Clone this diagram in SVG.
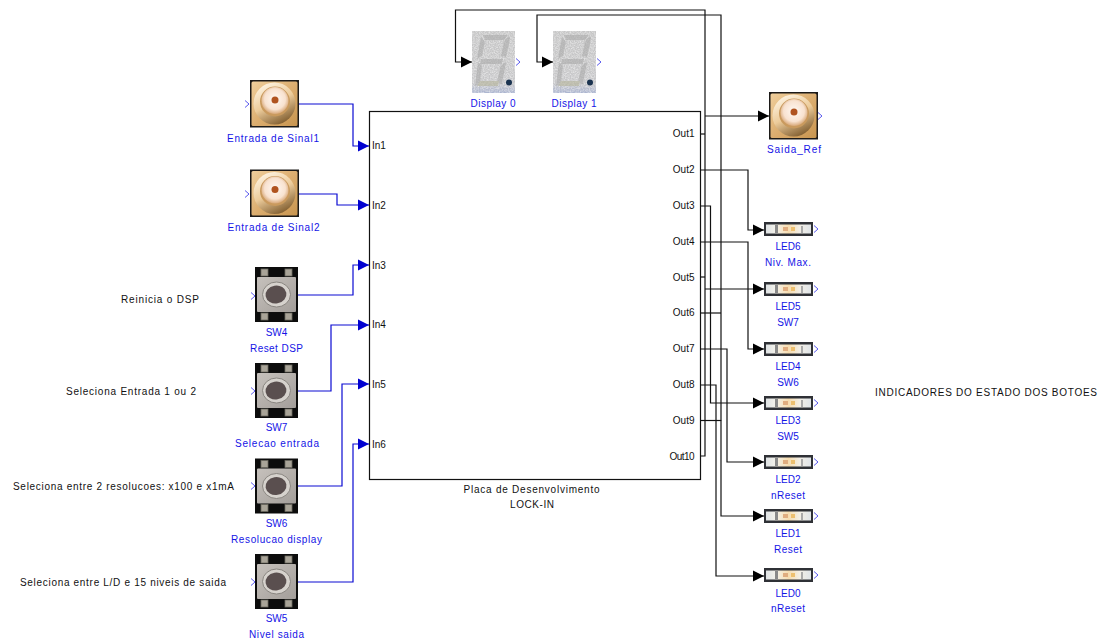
<svg xmlns="http://www.w3.org/2000/svg" xmlns:xlink="http://www.w3.org/1999/xlink" width="1099" height="642" viewBox="0 0 1099 642">
<style>
text{font-family:"Liberation Sans",Arial,sans-serif;font-size:10px}
.k{fill:#111}
.b{fill:#1414e6;text-anchor:middle}
.c{text-anchor:middle}
.e{text-anchor:end}
.wk{fill:none;stroke:#111;stroke-width:1.2;marker-end:url(#ak)}
.wn{fill:none;stroke:#111;stroke-width:1.2}
.wb{fill:none;stroke:#0a0ad2;stroke-width:1.2;marker-end:url(#ab)}
.chev{fill:none;stroke:#5a5aee;stroke-width:1}
</style>
<defs>
<marker id="ak" markerUnits="userSpaceOnUse" markerWidth="11" markerHeight="12" refX="11" refY="6" orient="auto"><path d="M0 0.5L11 6L0 11.500Z" fill="#000"/></marker>
<marker id="ab" markerUnits="userSpaceOnUse" markerWidth="11" markerHeight="12" refX="11" refY="6" orient="auto"><path d="M0 0.5L11 6L0 11.500Z" fill="#0000d0"/></marker>
<linearGradient id="gold" x1="0" x2="1" y1="0" y2="1"><stop offset="0" stop-color="#f0cf9c"/><stop offset=".5" stop-color="#dcae70"/><stop offset="1" stop-color="#c8954f"/></linearGradient>
<linearGradient id="ring" x1="0.200" x2="0.700" y1="0" y2="1"><stop offset="0" stop-color="#fff6e6"/><stop offset=".5" stop-color="#eccb9a"/><stop offset="1" stop-color="#7d5a2c"/></linearGradient>
<radialGradient id="core" cx="50%" cy="45%" r="55%"><stop offset="0" stop-color="#fff8f2"/><stop offset=".7" stop-color="#f8e2d0"/><stop offset="1" stop-color="#d8a878"/></radialGradient>
<linearGradient id="led" x1="0" x2="1" y1="0" y2="0"><stop offset="0" stop-color="#dfe3e5"/><stop offset=".22" stop-color="#f4f2ea"/><stop offset=".5" stop-color="#f7ddb0"/><stop offset=".75" stop-color="#f3efe6"/><stop offset="1" stop-color="#dfe4e8"/></linearGradient>
<linearGradient id="body" x1="0" x2="1" y1="0" y2="1"><stop offset="0" stop-color="#c6c1bc"/><stop offset="1" stop-color="#a39e9a"/></linearGradient>
<linearGradient id="disp" x1="0" x2="0" y1="0" y2="1"><stop offset="0" stop-color="#c6c6c6"/><stop offset=".85" stop-color="#c8c8ca"/><stop offset="1" stop-color="#aab4d0"/></linearGradient>
<filter id="spk" x="0" y="0" width="1" height="1"><feTurbulence type="fractalNoise" baseFrequency=".8" numOctaves="2" seed="3"/><feColorMatrix values="0 0 0 0 1  0 0 0 0 1  0 0 0 0 1  0 0 0 1 -.35"/><feComposite in2="SourceGraphic" operator="in"/><feMerge><feMergeNode in="SourceGraphic"/><feMergeNode/></feMerge></filter>
<g id="sma">
<rect width="49" height="47.500" fill="#1c1a18"/>
<rect x="1.500" y="1.500" width="46" height="44.500" rx="1.500" fill="url(#gold)"/>
<circle cx="24.500" cy="23.500" r="21" fill="url(#ring)"/>
<circle cx="25" cy="21.500" r="15" fill="#c99a5e"/>
<circle cx="25" cy="20.500" r="13.500" fill="url(#core)"/>
<circle cx="25" cy="20" r="3.500" fill="#b0531f"/>
</g>
<g id="sw">
<rect width="43" height="55" fill="#0c0c0c"/>
<g fill="#a9a498" stroke="#6c6a60" stroke-width=".8"><rect x="6" y="2" width="7" height="7"/><rect x="30" y="2" width="7" height="7"/><rect x="6" y="46" width="7" height="7"/><rect x="30" y="46" width="7" height="7"/></g>
<rect x="2" y="10" width="39" height="35" rx="1" fill="url(#body)"/>
<ellipse cx="21.500" cy="27.500" rx="14" ry="12.500" fill="#d6d2cd" stroke="#8a8681"/>
<ellipse cx="21" cy="27.500" rx="10.500" ry="9" fill="#5a4f4f" transform="rotate(-10 21 27.500)"/>
</g>
<g id="dsp">
<rect width="43" height="62" fill="url(#disp)" filter="url(#spk)"/>
<g fill="#a8a8a8" opacity=".55">
<path d="M11 4H36L32 9H13Z"/><path d="M9 6L13 11L10 25L5 28Z"/><path d="M37 5L38 7L34 26L29 25L32 10Z"/><path d="M9 28H31L30 33H8Z"/><path d="M6 31L10 35L8 52L3 55Z"/><path d="M33 31L34 32L30 53L25 52L28 36Z"/><path d="M8 50H27L26 55H5Z" fill="#b3b296"/>
</g>
<circle cx="37" cy="51.500" r="3" fill="#1b3350"/>
</g>
<g id="ledi">
<rect width="49" height="14" fill="#2f3136"/>
<rect x="2" y="2.500" width="45" height="9" fill="url(#led)"/>
<rect x="11" y="3" width="3" height="8" fill="#8a8a8a"/><rect x="37" y="4" width="2" height="7" fill="#aaa"/>
<rect x="19" y="5" width="5" height="4" fill="#e0ad80"/><rect x="27" y="5" width="4" height="4" fill="#edc070"/>
</g>
<path id="ch" class="chev" d="M0 -3.500L4 0L0 3.500"/>
</defs>

<g id="connectors">
<path class="wk" d="M705 134V10H455.500V62H472"/>
<path class="wk" d="M721 420.500V15H537V62H553"/>
<path class="wn" d="M700 134H705"/>
<path class="wn" d="M700 277H705"/>
<path class="wn" d="M700 456H705V134"/>
<path class="wk" d="M705 116H769"/>
<path class="wk" d="M705 289H764"/>
<path class="wk" d="M700 170H748V230H764"/>
<path class="wk" d="M700 242H748V349H764"/>
<path class="wk" d="M700 206H710.500V403H764"/>
<path class="wk" d="M700 349H727V462H764"/>
<path class="wk" d="M700 385H716V576H764"/>
<path class="wn" d="M700 313H721"/>
<path class="wn" d="M700 420.500H721"/>
<path class="wk" d="M721 420V516H764"/>
<path class="wb" d="M299 104H353V146H369"/>
<path class="wb" d="M299 194H337V205H369"/>
<path class="wb" d="M298 295H353V265H369"/>
<path class="wb" d="M298 391H331V325H369"/>
<path class="wb" d="M298 486H342V384H369"/>
<path class="wb" d="M298 582H353V444H369"/>
</g>

<g id="block-placa">
<rect x="369.500" y="111.500" width="331" height="368" fill="#fff" stroke="#111" stroke-width="1.2"/>
<text class="k" x="372" y="149">In1</text><text class="k" x="372" y="209">In2</text><text class="k" x="372" y="269">In3</text><text class="k" x="372" y="328">In4</text><text class="k" x="372" y="388">In5</text><text class="k" x="372" y="448">In6</text>
<text class="k e" x="694.500" y="137">Out1</text><text class="k e" x="694.500" y="173">Out2</text><text class="k e" x="694.500" y="209">Out3</text><text class="k e" x="694.500" y="245">Out4</text><text class="k e" x="694.500" y="281">Out5</text><text class="k e" x="694.500" y="316">Out6</text><text class="k e" x="694.500" y="352">Out7</text><text class="k e" x="694.500" y="388">Out8</text><text class="k e" x="694.500" y="424">Out9</text><text class="k e" x="694.500" y="460" textLength="25" lengthAdjust="spacing">Out10</text>
<text class="k c" x="531.500" y="493" textLength="136" lengthAdjust="spacing">Placa de Desenvolvimento</text>
<text class="k c" x="532" y="508" textLength="44" lengthAdjust="spacing">LOCK-IN</text>
</g>

<g id="entrada1"><use href="#sma" x="250" y="80"/><use href="#ch" x="245" y="104"/><text class="b" x="273" y="142" textLength="92" lengthAdjust="spacing">Entrada de Sinal1</text></g>
<g id="entrada2"><use href="#sma" x="250" y="169.500"/><use href="#ch" x="245" y="194"/><text class="b" x="273.500" y="231" textLength="92" lengthAdjust="spacing">Entrada de Sinal2</text></g>
<g id="sw4"><use href="#sw" x="255" y="267"/><use href="#ch" x="251" y="296"/><text class="b" x="276.500" y="336">SW4</text><text class="b" x="276.500" y="352" textLength="53" lengthAdjust="spacing">Reset DSP</text></g>
<g id="sw7"><use href="#sw" x="255" y="363"/><use href="#ch" x="251" y="391"/><text class="b" x="276.500" y="431">SW7</text><text class="b" x="277" y="447" textLength="84" lengthAdjust="spacing">Selecao entrada</text></g>
<g id="sw6"><use href="#sw" x="255" y="458.500"/><use href="#ch" x="251" y="486"/><text class="b" x="276.500" y="527">SW6</text><text class="b" x="276.500" y="543" textLength="91" lengthAdjust="spacing">Resolucao display</text></g>
<g id="sw5"><use href="#sw" x="255" y="554"/><use href="#ch" x="251" y="582"/><text class="b" x="276.500" y="622">SW5</text><text class="b" x="276.500" y="638" textLength="55" lengthAdjust="spacing">Nivel saida</text></g>

<g id="display0"><use href="#dsp" x="472" y="31"/><use href="#ch" x="516" y="62"/><text class="b" x="493" y="107" textLength="45" lengthAdjust="spacing">Display 0</text></g>
<g id="display1"><use href="#dsp" x="553" y="31"/><use href="#ch" x="597" y="62"/><text class="b" x="574" y="107" textLength="45" lengthAdjust="spacing">Display 1</text></g>

<g id="saida-ref"><use href="#sma" x="769" y="92"/><use href="#ch" x="818" y="116"/><text class="b" x="794" y="153" textLength="54" lengthAdjust="spacing">Saida_Ref</text></g>

<g id="led6"><use href="#ledi" x="764" y="222"/><use href="#ch" x="814" y="229"/><text class="b" x="788" y="250">LED6</text><text class="b" x="788" y="266" textLength="46" lengthAdjust="spacing">Niv. Max.</text></g>
<g id="led5"><use href="#ledi" x="764" y="282"/><use href="#ch" x="814" y="289"/><text class="b" x="788" y="310">LED5</text><text class="b" x="788" y="326">SW7</text></g>
<g id="led4"><use href="#ledi" x="764" y="342"/><use href="#ch" x="814" y="349"/><text class="b" x="788" y="370">LED4</text><text class="b" x="788" y="386">SW6</text></g>
<g id="led3"><use href="#ledi" x="764" y="396"/><use href="#ch" x="814" y="403"/><text class="b" x="788" y="424">LED3</text><text class="b" x="788" y="440">SW5</text></g>
<g id="led2"><use href="#ledi" x="764" y="455"/><use href="#ch" x="814" y="462"/><text class="b" x="788" y="483">LED2</text><text class="b" x="788" y="499" textLength="34" lengthAdjust="spacing">nReset</text></g>
<g id="led1"><use href="#ledi" x="764" y="509"/><use href="#ch" x="814" y="516"/><text class="b" x="788" y="537">LED1</text><text class="b" x="788" y="552.500" textLength="28" lengthAdjust="spacing">Reset</text></g>
<g id="led0"><use href="#ledi" x="764" y="568"/><use href="#ch" x="814" y="575"/><text class="b" x="788" y="597">LED0</text><text class="b" x="788" y="612" textLength="34" lengthAdjust="spacing">nReset</text></g>

<g id="annotations">
<text class="k" x="121" y="303" textLength="78" lengthAdjust="spacing">Reinicia o DSP</text>
<text class="k" x="66" y="395" textLength="130" lengthAdjust="spacing">Seleciona Entrada 1 ou 2</text>
<text class="k" x="13" y="490" textLength="221" lengthAdjust="spacing">Seleciona entre 2 resolucoes: x100 e x1mA</text>
<text class="k" x="20" y="586" textLength="206" lengthAdjust="spacing">Seleciona entre L/D e 15 niveis de saida</text>
<text class="k" x="875" y="396" textLength="222" lengthAdjust="spacing">INDICADORES DO ESTADO DOS BOTOES</text>
</g>
</svg>
